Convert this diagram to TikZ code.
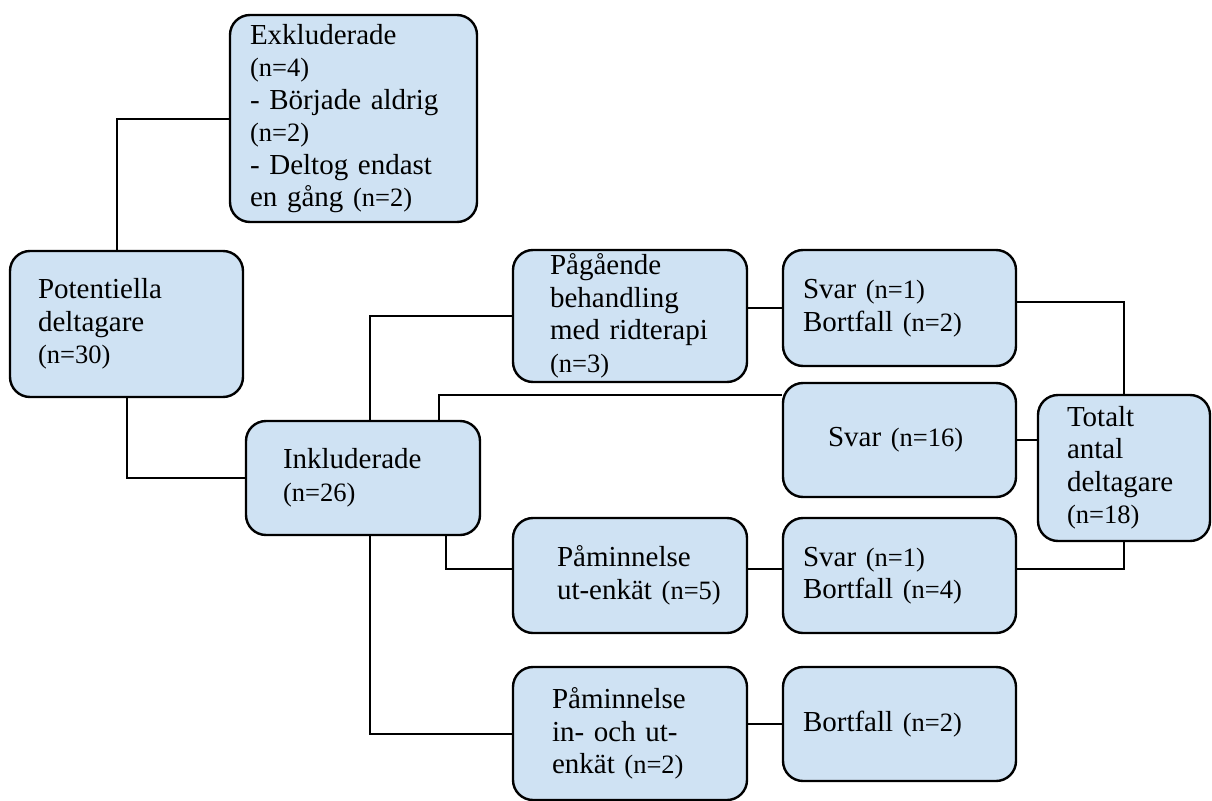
\documentclass[tikz,border=0pt]{standalone}
\usepackage{fontspec}
\setmainfont{Liberation Serif}
\definecolor{boxblue}{RGB}{207,226,243}
\newcommand{\antal}[1]{{\fontsize{26.5}{32.5}\selectfont(n=#1)}}
\begin{document}
\begin{tikzpicture}[x=1pt, y=-1pt,
    box/.style={draw, line width=2.4pt, rounded corners=20pt, fill=boxblue,
      inner ysep=0pt, minimum height=#1, align=left,
      font=\fontsize{29}{32.5}\selectfont},
    line/.style={line width=2pt}]
    \useasboundingbox (0,0) rectangle (1212,800);
    \node[box=207pt, text width=207pt, inner xsep=20pt] (excl) at (353.5,118.5)
      {Exkluderade\\\antal{4}\\- Började aldrig\\\antal{2}\\- Deltog endast\\en gång \antal{2}};
    \node[box=146pt, text width=177pt, inner xsep=28pt] (pot) at (126.5,324)
      {Potentiella\\deltagare\\\antal{30}};
    \node[box=114pt, text width=160pt, inner xsep=37pt] (inkl) at (363,478)
      {Inkluderade\\\antal{26}};
    \node[box=132pt, text width=160pt, inner xsep=37pt] (pag) at (630,316)
      {Pågående\\behandling\\med ridterapi\\\antal{3}};
    \node[box=115pt, text width=146pt, inner xsep=44pt] (utenk) at (630,575.5)
      {Påminnelse\\\mbox{ut-enkät \antal{5}}};
    \node[box=133pt, text width=156pt, inner xsep=39pt] (inut) at (630,733.5)
      {Påminnelse\\in- och ut-\\enkät \antal{2}};
    \node[box=116pt, text width=193pt, inner xsep=20pt] (svarA) at (899.5,308)
      {Svar \antal{1}\\Bortfall \antal{2}};
    \node[box=114pt, text width=143pt, inner xsep=45pt] (svarB) at (899.5,440)
      {Svar \antal{16}};
    \node[box=115pt, text width=193pt, inner xsep=20pt] (svarC) at (899.5,575.5)
      {Svar \antal{1}\\Bortfall \antal{4}};
    \node[box=114pt, text width=193pt, inner xsep=20pt] (bortf) at (899.5,724)
      {Bortfall \antal{2}};
    \node[box=146pt, text width=114pt, inner xsep=29pt] (tot) at (1124,468)
      {Totalt\\antal\\deltagare\\\antal{18}};
    \draw[line] (excl.west) -| ([xshift=-10pt]pot.north);
    \draw[line] (pot.south) |- (inkl.west);
    \draw[line] ([xshift=7pt]inkl.north) |- (pag.west);
    \draw[line] ([xshift=76pt]inkl.north) |- ([yshift=-13pt]svarB.north west);
    \draw[line] ([xshift=83pt]inkl.south) |- ([yshift=7pt]utenk.west);
    \draw[line] ([xshift=7pt]inkl.south) |- (inut.west);
    \draw[line] (svarA.west -| pag.east) -- (svarA.west);
    \draw[line] ([yshift=7pt]utenk.east) -- ([yshift=7pt]svarC.west);
    \draw[line] (inut.east |- bortf.west) -- (bortf.west);
    \draw[line] ([yshift=6pt]svarA.east) -| (tot.north);
    \draw[line] (svarB.east) -- (svarB.east -| tot.west);
    \draw[line] ([yshift=7pt]svarC.east) -| (tot.south);
\end{tikzpicture}
\end{document}
